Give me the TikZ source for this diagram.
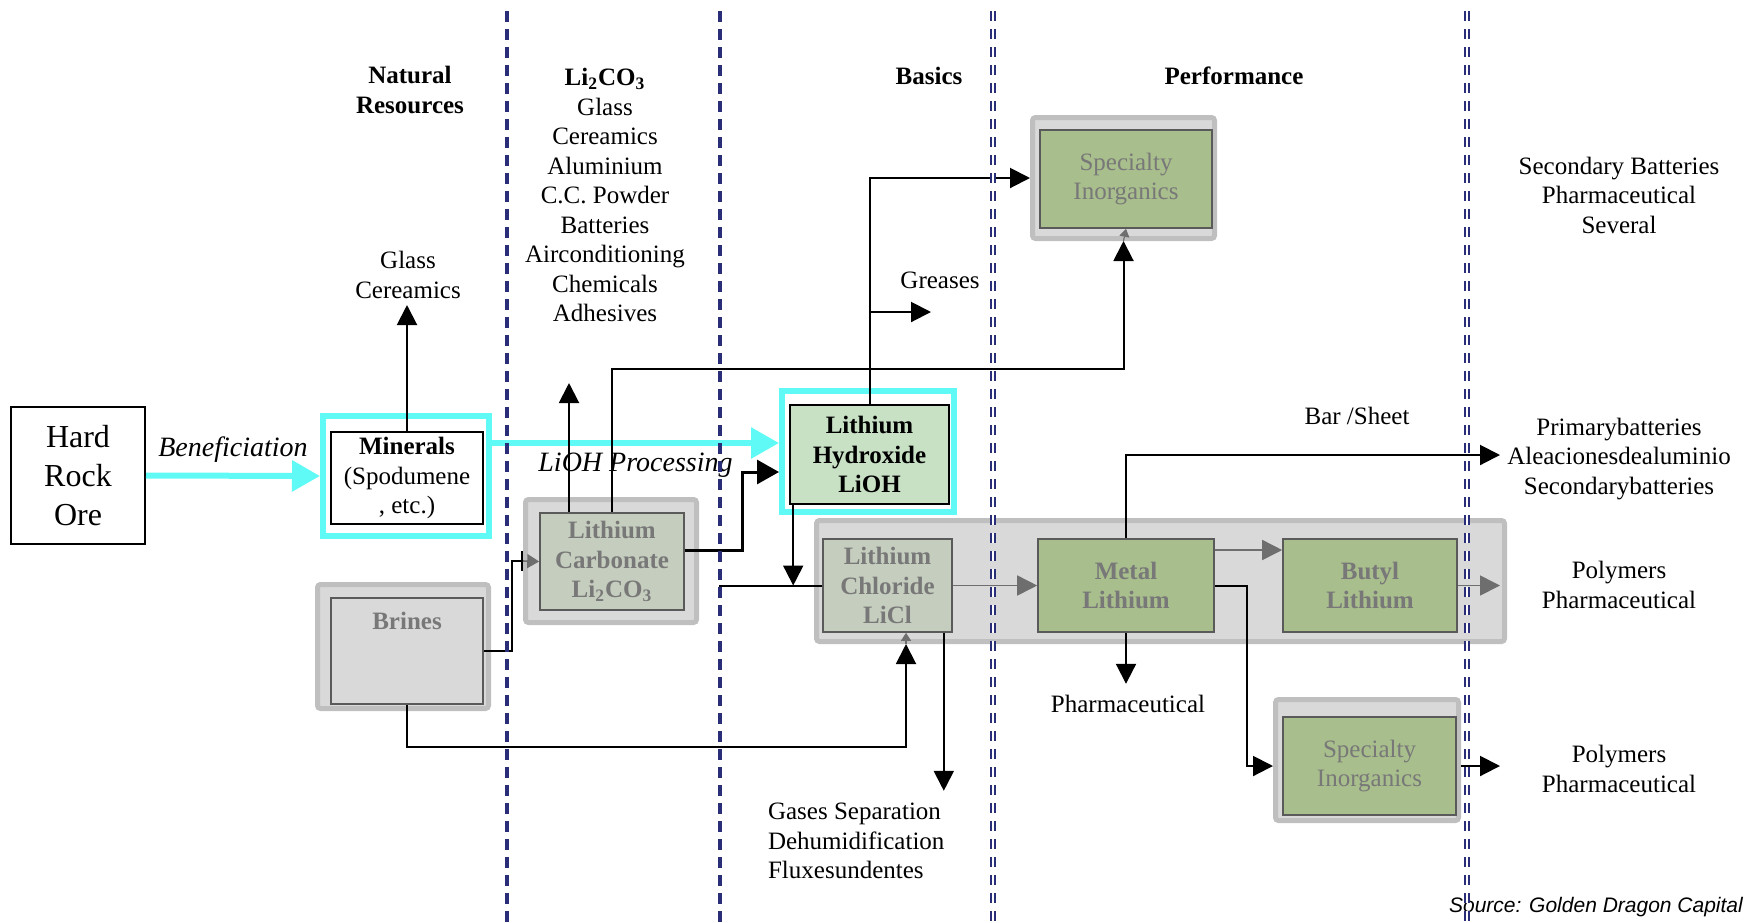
\documentclass[tikz,border=0pt]{standalone}
\usepackage{fontspec}
\setmainfont{Liberation Serif}
\setsansfont{Liberation Sans}
\usetikzlibrary{arrows.meta, positioning}

\definecolor{hlcyan}{RGB}{95,250,245}
\definecolor{framegray}{RGB}{191,191,191}
\definecolor{framefill}{RGB}{217,217,217}
\definecolor{sagefill}{RGB}{197,206,190}
\definecolor{olivefill}{RGB}{168,190,140}
\definecolor{mintfill}{RGB}{200,224,196}
\definecolor{labelgray}{RGB}{120,120,120}
\definecolor{edgegray}{RGB}{90,90,90}
\definecolor{tipgray}{RGB}{110,110,110}
\definecolor{divnavy}{RGB}{42,46,120}

\tikzset{
  every node/.style={font=\fontsize{12.5}{14.75}\selectfont, align=center},
  head/.style={font=\fontsize{12.5}{14.75}\selectfont\bfseries},
  orebox/.style={draw, line width=1pt, minimum width=67pt, minimum height=68.5pt, font=\fontsize{16}{19.5}\selectfont},
  hibox/.style={draw=hlcyan, line width=3pt},
  grayframe/.style={draw=framegray, fill=framefill, line width=2.5pt, rounded corners=1.5pt},
  procbox/.style={draw=edgegray, line width=0.8pt, inner sep=1pt, text=labelgray, font=\fontsize{12.5}{14.75}\selectfont\bfseries},
  conn/.style={line width=1pt},
  arr/.style={conn, -{Triangle[length=10pt, width=10pt]}},
  grayarr/.style={draw=tipgray, line width=0.8pt, -{Triangle[length=10pt, width=10pt]}},
  tinyarr/.style={draw=tipgray, line width=0.6pt, -{Triangle[length=4pt, width=5pt]}},
  cyanarr/.style={draw=hlcyan, line width=3pt, -{Triangle[length=14pt, width=15pt]}},
  solidsep/.style={draw=divnavy, line width=1.6pt, dash pattern=on 5.5pt off 3.5pt},
  hollowsep/.style={draw=divnavy, line width=0.8pt, double=white, double distance=1.1pt, dash pattern=on 5pt off 4pt},
}

\begin{document}
\begin{tikzpicture}[x=0.5pt, y=-0.5pt]
\useasboundingbox (0,0) rectangle (1749,922);

% headings and end uses
\node[head] (natres) at (410,90) {Natural\\Resources};
\node (glassuse) at (408,275) {Glass\\Cereamics};
\node (carbuse) at (605,195) {\textbf{Li\textsubscript{2}CO\textsubscript{3}}\\Glass\\Cereamics\\Aluminium\\C.C. Powder\\Batteries\\Airconditioning\\Chemicals\\Adhesives};
\node[head] (basics) at (929,76) {Basics};
\node[head] (perf) at (1234,76) {Performance};
\node (specuse) at (1619,195) {Secondary Batteries\\Pharmaceutical\\Several};
\node (greases) at (940,280) {Greases};
\node (barsheet) at (1357,416) {Bar /Sheet};
\node (baruse) at (1619,459) {Primarybatteries\\Aleacionesdealuminio\\Secondarybatteries};
\node (butyluse) at (1619,585) {Polymers\\Pharmaceutical};
\node (metaluse) at (1128,704) {Pharmaceutical};
\node[align=left, anchor=west] (gasuse) at (761,841) {Gases Separation\\Dehumidification\\Fluxesundentes};
\node (specuseB) at (1619,769) {Polymers\\Pharmaceutical};
\node[anchor=base west, font=\sffamily\itshape\fontsize{10.5}{12}\selectfont] (credit) at (1442,912) {Source: Golden Dragon Capital};

% frames
\node[grayframe, minimum width=85.5pt, minimum height=62pt] (brineframe) at (403,646.5) {};
\node[grayframe, minimum width=85.5pt, minimum height=61.5pt] (carbframe) at (611,561) {};
\node[grayframe, minimum width=344pt, minimum height=60.5pt] (bigframe) at (1160.5,581) {};
\node[grayframe, minimum width=91pt, minimum height=60.5pt] (specAframe) at (1123.5,178) {};
\node[grayframe, minimum width=91.5pt, minimum height=60.5pt] (specBframe) at (1367,760) {};
\node[hibox, minimum width=83pt, minimum height=60pt] (minframe) at (406,476) {};
\node[hibox, minimum width=86pt, minimum height=60.5pt] (liohframe) at (868,451.5) {};

% boxes
\node[orebox] (ore) at (78,475.5) {Hard\\Rock\\Ore};
\node[draw, line width=0.8pt, inner sep=1pt, minimum width=76pt, minimum height=46pt] (minerals) at (407,478) {\textbf{Minerals}\\(Spodumene\\, etc.)};
\node[procbox, fill=framefill, minimum width=76pt, minimum height=53pt,
  label={[anchor=north, yshift=-4pt, text=labelgray, font=\fontsize{12.5}{14.75}\selectfont\bfseries]north:Brines}] (brines) at (407,651) {};
\node[procbox, fill=sagefill, minimum width=72pt, minimum height=48.5pt] (carb) at (612,561.5) {Lithium\\Carbonate\\Li\textsubscript{2}CO\textsubscript{3}};
\node[draw, line width=0.8pt, inner sep=1pt, fill=mintfill, minimum width=79.5pt, minimum height=49.5pt, font=\fontsize{12.5}{14.75}\selectfont\bfseries] (lioh) at (869.5,454.5) {Lithium\\Hydroxide\\LiOH};
\node[procbox, fill=sagefill, minimum width=64.5pt, minimum height=46.5pt] (licl) at (887.5,585.5) {Lithium\\Chloride\\LiCl};
\node[procbox, fill=olivefill, minimum width=88pt, minimum height=46.5pt] (metal) at (1126,585.5) {Metal\\Lithium};
\node[procbox, fill=olivefill, minimum width=87pt, minimum height=46.5pt] (butyl) at (1370,585.5) {Butyl\\Lithium};
\node[procbox, fill=olivefill, font=\fontsize{12.5}{14.75}\selectfont, minimum width=86pt, minimum height=49pt] (specA) at (1126,179) {Specialty\\Inorganics};
\node[procbox, fill=olivefill, font=\fontsize{12.5}{14.75}\selectfont, minimum width=86.5pt, minimum height=49pt] (specB) at (1369.5,766) {Specialty\\Inorganics};

% connectors
\coordinate (procrow) at (0,443);
\coordinate (glasstip) at (408,305);
\coordinate (brinebend) at (512,0);
\coordinate (carbtip) at (569,383);
\coordinate (topbus) at (0,369);
\coordinate (carbout) at (0,550);
\coordinate (liohfeed) at (742,472);
\coordinate (greasetip) at (931,312);
\coordinate (liclbus) at (719,0);
\coordinate (butylrow) at (0,550);
\coordinate (polytip) at (1500,0);
\coordinate (bartip) at (1500,455);
\coordinate (brinebus) at (906,747);

\draw[cyanarr] (ore.east) -- (minframe.west) node[midway, above, yshift=2pt, font=\fontsize{14}{16}\selectfont\itshape] (benef) {Beneficiation};
\draw[cyanarr] (minframe.east |- procrow) -- (liohframe.west |- procrow) node[midway, below, font=\fontsize{14}{16}\selectfont\itshape] (liohproc) {LiOH Processing};

\draw[arr] (minerals.north) -- (minerals.north |- glasstip);
\draw[conn, -{Bar[width=10pt]}] (brines.east) -| (brinebend |- carbframe.west) -- (carbframe.west);
\draw[grayarr, -{Triangle[length=6pt, width=7pt]}] (carbframe.west) -- (carb.west);
\draw[arr] (carb.north -| carbtip) -- (carbtip);
\draw[arr] (carb.north) |- (specAframe.south |- topbus) -- (specAframe.south);
\draw[tinyarr] (specAframe.south) -- (specA.south);
\draw[line width=1.5pt, -{Triangle[length=11pt, width=12pt]}] (carb.east |- carbout) -| (liohfeed) -- (liohframe.west |- liohfeed);
\draw[arr] (lioh.north) |- (specAframe.west);
\draw[arr] (lioh.north |- greasetip) -- (greasetip);
\draw[arr] ([xshift=2pt]lioh.south west) -- ([xshift=2pt]lioh.south west |- licl.west);
\draw[conn] (liclbus |- licl.west) -- (licl.west);

\draw[grayarr] (licl.east) -- (metal.west);
\draw[grayarr] (metal.east |- butylrow) -- (butyl.west |- butylrow);
\draw[grayarr] (butyl.east) -- (polytip |- butyl.east);
\draw[arr] (metal.north) |- (bartip);
\draw[arr] (metal.south) -- ++(0,51);
\draw[arr] (metal.east) -- ++(32,0) |- (specBframe.west |- specB.west);
\draw[arr] (specBframe.east |- specB.west) -- (polytip |- specB.west);
\draw[arr] ([xshift=-4.5pt]licl.south east) -- ++(0,158);
\draw[arr] (brines.south) |- (brinebus) -- (brinebus |- bigframe.south);
\draw[tinyarr] (brinebus |- bigframe.south) -- (brinebus |- licl.south);

% column dividers
\draw[solidsep] (507,11) -- (507,922);
\draw[solidsep] (720,11) -- (720,922);
\draw[hollowsep] (993,11) -- (993,922);
\draw[hollowsep] (1467,11) -- (1467,922);
\end{tikzpicture}
\end{document}
